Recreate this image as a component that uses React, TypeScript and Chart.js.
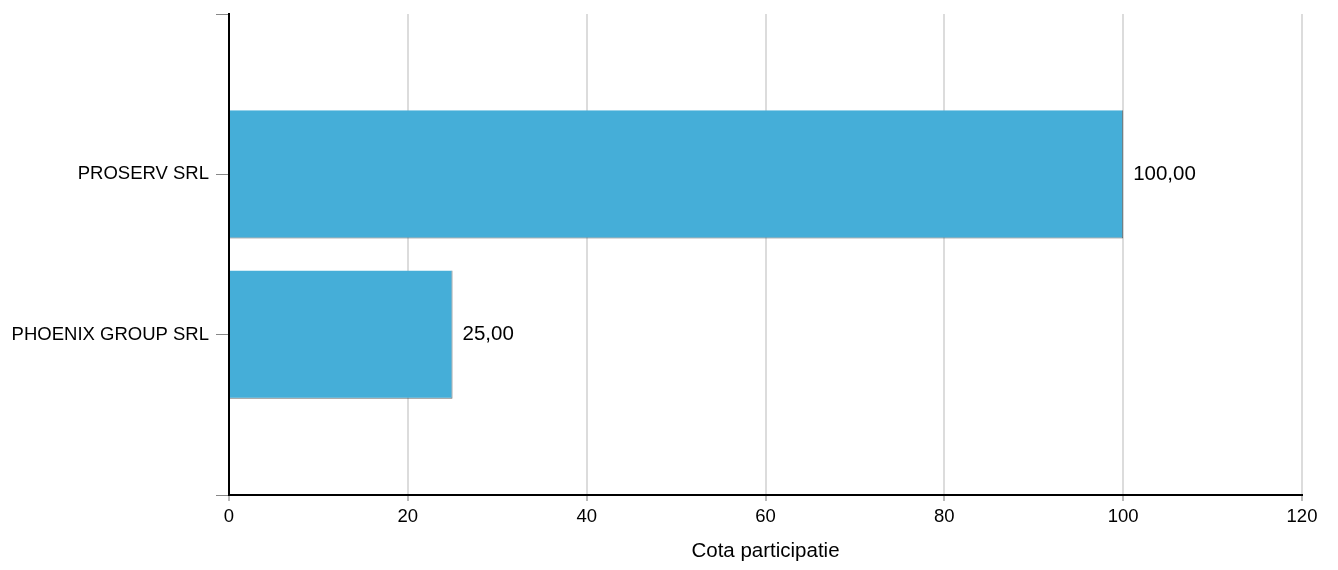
import React, { useEffect, useRef } from "react";
import { Chart, registerables } from "chart.js";

Chart.register(...registerables);

const categories: string[] = ["", "PROSERV SRL", "PHOENIX GROUP SRL", ""];
const values: (number | null)[] = [null, 100, 25, null];
const xTicksMin = 0;
const xTicksMax = 120;
const xTicksStep = 20;
const xTitle = "Cota participatie";

const FONT = "'Liberation Sans', Arial, Helvetica, sans-serif";

const valueLabels = {
  id: "valueLabels",
  afterDatasetsDraw(chart: any) {
    const ctx = chart.ctx;
    const meta = chart.getDatasetMeta(0);
    ctx.save();
    ctx.font = `20.5px ${FONT}`;
    ctx.fillStyle = "#000";
    ctx.textAlign = "left";
    ctx.textBaseline = "middle";
    meta.data.forEach((el: any, i: number) => {
      const v = values[i];
      if (v === null || v === undefined) return;
      const txt = v.toFixed(2).replace(".", ",");
      ctx.fillText(txt, el.x + 10, el.y);
    });
    ctx.restore();
  },
};

export default function App() {
  const ref = useRef<HTMLCanvasElement | null>(null);
  useEffect(() => {
    if (!ref.current) return;
    const chart = new Chart(ref.current, {
      type: "bar",
      data: {
        labels: categories,
        datasets: [
          {
            data: values as any,
            backgroundColor: "#45aed8",
            borderColor: "rgba(70,70,70,0.8)",
            borderWidth: { top: 0, left: 0, right: 1, bottom: 1 } as any,
            borderSkipped: false,
            categoryPercentage: 1,
            barPercentage: 0.8,
          },
        ],
      },
      options: {
        indexAxis: "y",
        animation: false,
        responsive: true,
        maintainAspectRatio: false,
        layout: { padding: { top: 14, right: 36, left: 0, bottom: 0 } },
        plugins: {
          legend: { display: false },
          tooltip: { enabled: false },
        },
        scales: {
          x: {
            type: "linear",
            min: xTicksMin,
            max: xTicksMax,
            ticks: {
              stepSize: xTicksStep,
              color: "#000",
              font: { family: FONT, size: 18.5 },
              padding: 5,
            },
            grid: {
              color: "#dcdcdc",
              lineWidth: 2,
              tickLength: 6,
              tickColor: "#777",
              tickWidth: 1,
            },
            border: { color: "#000", width: 2 },
            title: {
              display: true,
              text: xTitle,
              color: "#000",
              font: { family: FONT, size: 20.5 },
              padding: { top: 4, bottom: 6 },
            },
            afterFit: (scale: any) => {
              scale.height = 75;
            },
          },
          y: {
            type: "category",
            offset: false,
            ticks: {
              color: "#000",
              font: { family: FONT, size: 18.5 },
              padding: 7,
              autoSkip: false,
            },
            grid: {
              offset: false,
              drawOnChartArea: false,
              tickLength: 13,
              tickColor: "#888",
              tickWidth: 1,
            },
            border: { color: "#000", width: 2 },
            afterFit: (scale: any) => {
              scale.width = 229;
              scale.paddingTop = 0;
              scale.paddingBottom = 0;
            },
          },
        },
      },
      plugins: [valueLabels],
    });
    return () => chart.destroy();
  }, []);

  return (
    <div
      style={{
        position: "absolute",
        left: 0,
        top: 0,
        width: "1338px",
        height: "570px",
        background: "#fff",
      }}
    >
      <canvas ref={ref} />
    </div>
  );
}
